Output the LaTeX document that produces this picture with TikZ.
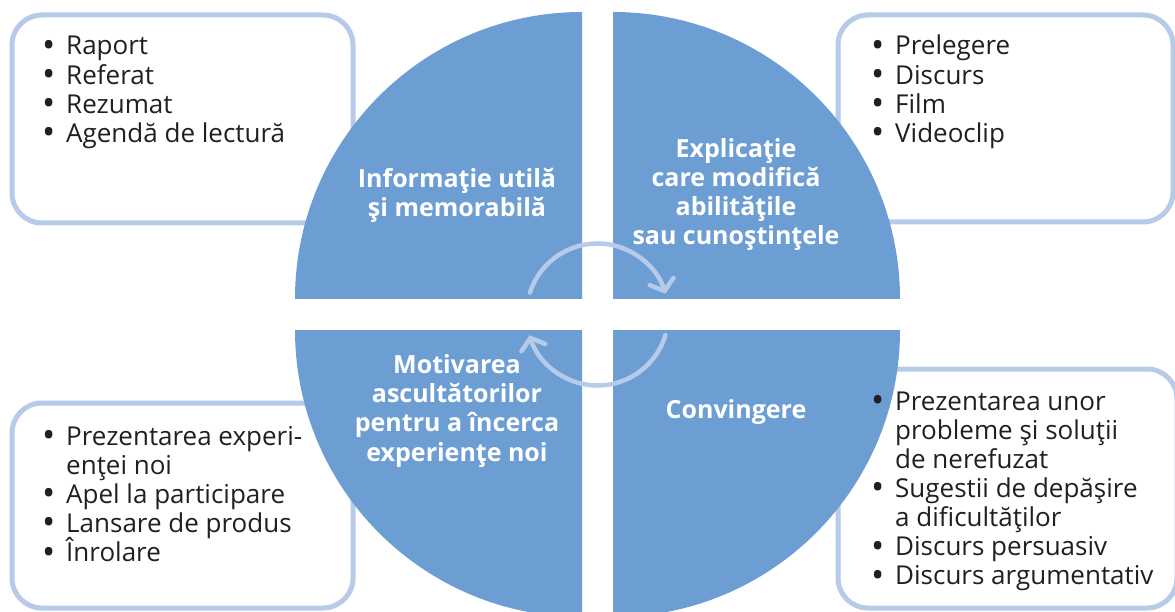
\documentclass[tikz,border=0pt]{standalone}
\usepackage{graphicx}
\usepackage{fontspec}
\setmainfont{Open Sans}
\usetikzlibrary{arrows.meta}
\definecolor{quad}{RGB}{108,158,212}
\definecolor{lite}{RGB}{182,202,233}
\definecolor{ink}{RGB}{35,31,32}
\tikzset{
  quadrant/.style={fill=quad, draw=none},
  listbox/.style={draw=lite, line width=5pt, fill=white, rounded corners=30pt},
  cyc/.style={draw=lite, line width=4.5pt, line cap=round,
    -{Straight Barb[length=10pt,width=25pt,line cap=round]}},
  qtext/.style={text=white, font=\bfseries\fontsize{25}{29.3}\selectfont, align=center, inner sep=0pt, anchor=base},
  ltext/.style={text=ink, inner sep=0pt, anchor=base west}
}
\newcommand{\bul}{\makebox[11pt][c]{\smash{\raisebox{-2.6pt}{\scalebox{1.35}{•}}}}}
\newcommand{\blist}[1]{\fontsize{26}{29.1}\selectfont\begin{tabular}[t]{@{}l@{\hspace{12pt}}l@{}}#1\end{tabular}}
\begin{document}
\begin{tikzpicture}[x=1pt,y=-1pt]
\useasboundingbox (0,0) rectangle (1175,612);
% boxes
\path[listbox] (12,15) rectangle (353,223);
\path[listbox] (838,15) rectangle (1173,222);
\path[listbox] (12,403) rectangle (353,608);
\path[listbox] (838,369) rectangle (1177,608);
% quadrants
\path[quadrant] (582,299) -- ++(-287,0) arc[start angle=180,end angle=270,radius=287] -- cycle;
\path[quadrant] (613,299) -- ++(0,-287) arc[start angle=270,end angle=360,radius=287] -- cycle;
\path[quadrant] (582,330) -- ++(0,287) arc[start angle=90,end angle=180,radius=287] -- cycle;
\path[quadrant] (613,330) -- ++(287,0) arc[start angle=0,end angle=90,radius=287] -- cycle;
% cycle arrows
\coordinate (cc) at (597.5,314.5);
\draw[cyc] ([shift={(198:71)}]cc) arc[start angle=198,end angle=343,radius=71];
\draw[cyc] ([shift={(17:71)}]cc) arc[start angle=17,end angle=163,radius=71];
% quadrant texts (anchored at the baseline of the last line)
\node[qtext] (q1) at (457,217) {Informaţie utilă\\şi memorabilă};
\node[qtext] (q2) at (736,245) {Explicaţie\\care modifică\\abilităţile\\sau cunoştinţele};
\node[qtext] (q3) at (457,461) {Motivarea\\ascultătorilor\\pentru a încerca\\experienţe noi};
\node[qtext] (q4) at (736,418) {Convingere};
% lists
\node[ltext] (l1) at (43,55) {\blist{\bul & Raport\\ \bul & Referat\\ \bul & Rezumat\\ \bul & Agendă de lectură}};
\node[ltext] (l2) at (872,55) {\blist{\bul & Prelegere\\ \bul & Discurs\\ \bul & Film\\ \bul & Videoclip}};
\node[ltext] (l3) at (43,445) {\blist{\bul & Prezentarea experi-\\ & enţei noi\\ \bul & Apel la participare\\ \bul & Lansare de produs\\ \bul & \smash{Înrolare}}};
\node[ltext] (l4) at (872,410) {\blist{\bul & Prezentarea unor\\ & probleme şi soluţii\\ & de nerefuzat\\ \bul & Sugestii de depăşire\\ & a dificultăţilor\\ \bul & Discurs persuasiv\\ \bul & Discurs argumentativ}};
\end{tikzpicture}
\end{document}
